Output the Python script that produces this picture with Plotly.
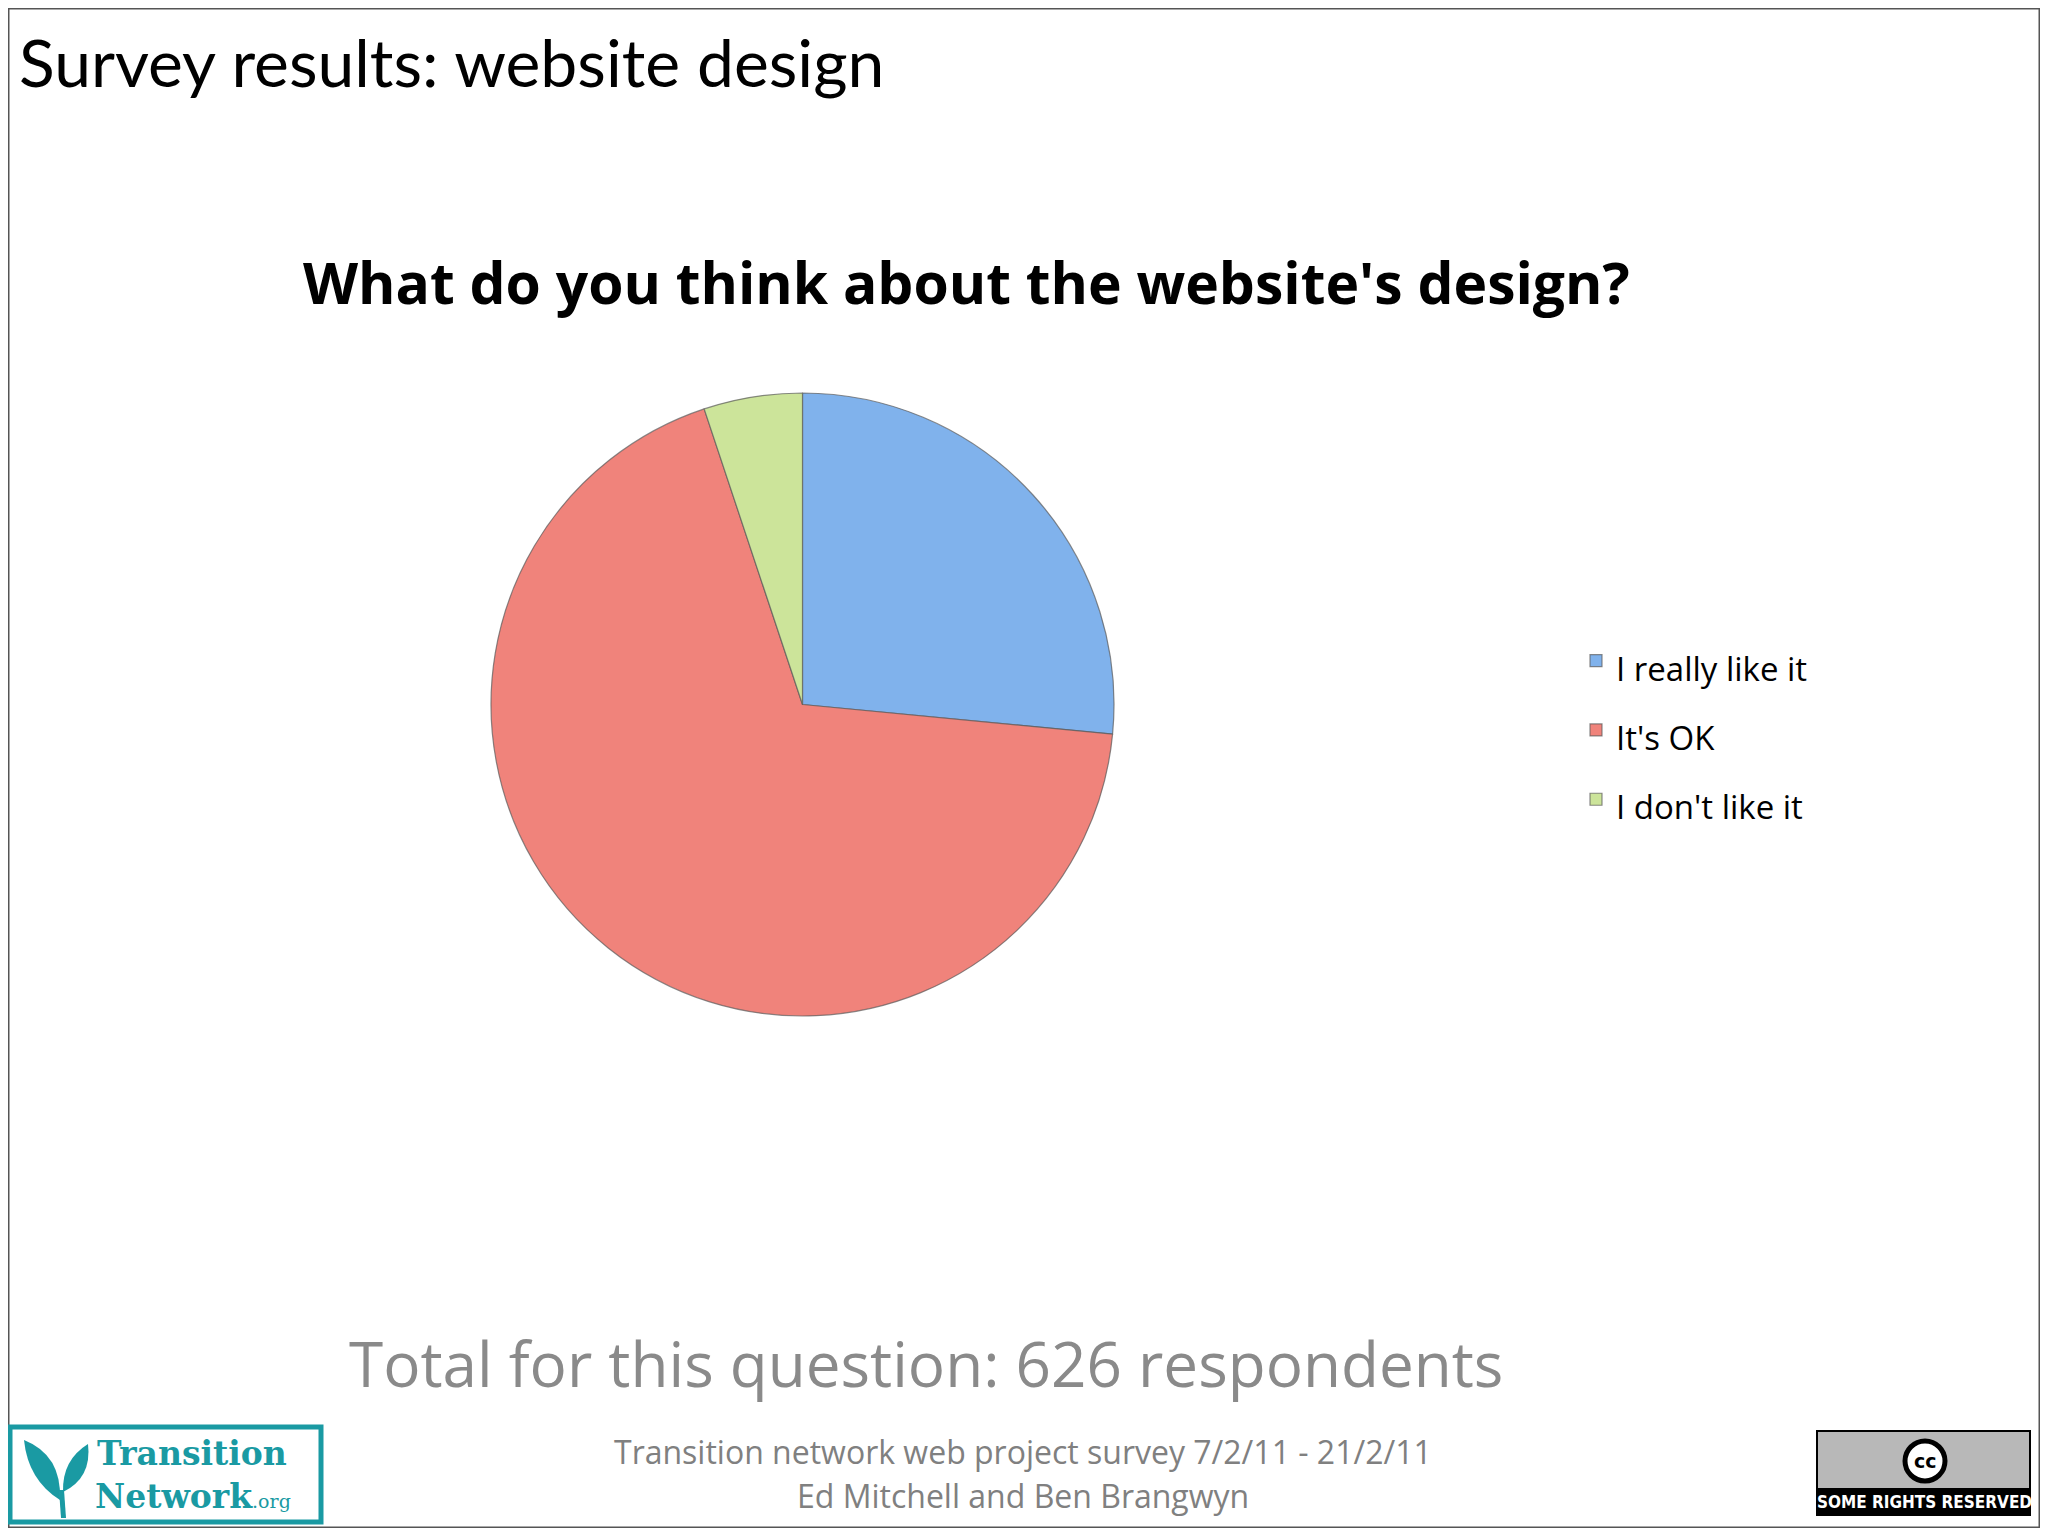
import plotly.graph_objects as go

# ---- data ----
labels = ["I really like it", "It's OK", "I don't like it"]
values = [166, 428, 32]
colors = ["#80b2ec", "#f0837b", "#cce49a"]

slide_title = "Survey results: website design"
chart_title = "What do you think about the website's design?"
total_text = "Total for this question: 626 respondents"
footer_lines = ["Transition network web project survey 7/2/11 - 21/2/11",
                "Ed Mitchell and Ben Brangwyn"]

# figure sized to fit the page body (8px default margin)
W, H = 2032, 1520
OFF = 8


def px(x):
    return (x - OFF) / W


def py(y):
    return 1 - (y - OFF) / H


TEAL = "#1a9aa3"

fig = go.Figure()
fig.add_trace(go.Pie(
    labels=[f"<span style='font-size:33px'>{l}</span>" for l in labels],
    values=values,
    sort=False,
    direction="clockwise",
    rotation=0,
    textinfo="none",
    marker=dict(colors=colors, line=dict(color="rgba(90,90,90,0.7)", width=1.2)),
    domain=dict(x=[px(491), px(1114)], y=[py(1016), py(393)]),
    showlegend=True,
))


def ann(text, x, y, size, color, family="Open Sans", xanchor="center"):
    return dict(text=text, x=px(x), y=py(y), xref="paper", yref="paper",
                xanchor=xanchor, yanchor="middle", showarrow=False,
                font=dict(family=family, size=size, color=color))


annotations = [
    ann(slide_title, 17, 62, 66, "black", family="Lato", xanchor="left"),
    ann(f"<b>{chart_title}</b>", 966, 282, 57, "black"),
    ann(total_text, 926, 1363, 62, "#8a8a8a"),
    ann(footer_lines[0], 1023, 1451, 32, "#808080"),
    ann(footer_lines[1], 1023, 1495, 32, "#808080"),
    # Transition Network logo text
    ann("<b>Transition</b>", 95, 1453, 33, TEAL, family="DejaVu Serif", xanchor="left"),
    ann("<b>Network</b><span style='font-size:19px'>.org</span>", 93, 1496, 33, TEAL,
        family="DejaVu Serif", xanchor="left"),
    # CC logo text
    ann("<b>cc</b>", 1925, 1461, 19, "black", family="DejaVu Sans"),
    ann("<b>SOME RIGHTS RESERVED</b>", 1924, 1502, 17, "white", family="DejaVu Sans Condensed"),
]


def rect(x0, y0, x1, y1, line_color=None, lw=0, fill=None):
    d = dict(type="rect", xref="paper", yref="paper", x0=px(x0), x1=px(x1), y0=py(y1), y1=py(y0),
             line=dict(color=line_color or "rgba(0,0,0,0)", width=lw))
    if fill:
        d["fillcolor"] = fill
    return d


def circle(cx, cy, r, line_color, lw, fill):
    return dict(type="circle", xref="paper", yref="paper", x0=px(cx - r), x1=px(cx + r),
                y0=py(cy + r), y1=py(cy - r), line=dict(color=line_color, width=lw), fillcolor=fill)


def path(points_cmd):
    return dict(type="path", xref="paper", yref="paper", path=points_cmd,
                fillcolor=TEAL, line=dict(width=0))


def P(x, y):
    return f"{px(x)},{py(y)}"


shapes = [
    # slide border
    dict(type="rect", xref="paper", yref="paper", x0=0, x1=1, y0=0, y1=1,
         line=dict(color="#555555", width=3)),
    # Transition logo box
    rect(10, 1427, 321, 1522, TEAL, 5, "white"),
    # leaves and stem
    path(f"M {P(60, 1500)} Q {P(28, 1480)} {P(24, 1440)} Q {P(62, 1455)} {P(60, 1500)} Z"),
    path(f"M {P(63, 1492)} Q {P(62, 1460)} {P(88, 1444)} Q {P(92, 1478)} {P(63, 1492)} Z"),
    path(f"M {P(59, 1490)} L {P(64, 1490)} L {P(66, 1518)} L {P(61, 1518)} Z"),
    # CC logo
    rect(1817, 1431, 2030, 1515, "black", 2, "#b8b8b8"),
    rect(1818, 1488, 2029, 1515, None, 0, "black"),
    circle(1925, 1461, 20, "black", 5, "white"),
]

fig.update_layout(
    width=W, height=H,
    margin=dict(l=0, r=0, t=0, b=0),
    paper_bgcolor="white",
    plot_bgcolor="white",
    showlegend=True,
    legend=dict(x=px(1576), y=py(621), xanchor="left", yanchor="top",
                font=dict(family="Open Sans", size=51, color="black"),
                bgcolor="rgba(0,0,0,0)"),
    annotations=annotations,
    shapes=shapes,
)

fig.write_html("out.html")
